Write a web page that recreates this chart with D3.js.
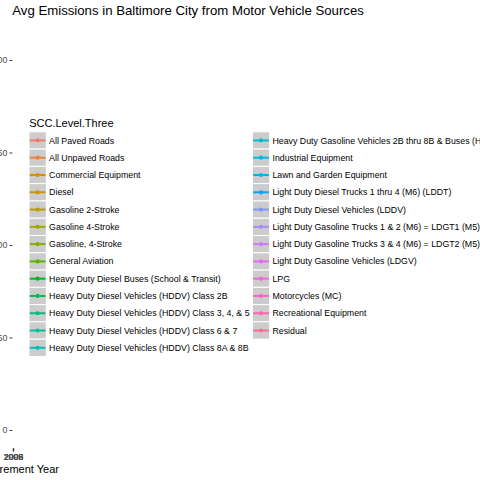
<!DOCTYPE html>
<html><head><meta charset="utf-8">
<script src="https://cdn.jsdelivr.net/npm/d3@7"></script>
<style>body{margin:0;background:#fff}svg{display:block;font-family:"Liberation Sans",Arial,sans-serif}</style>
</head><body><svg id="c" width="480" height="480"></svg>
<script>
const title = "Avg Emissions in Baltimore City from Motor Vehicle Sources";
const xTitle = "Measurement Year";
const yTitle = "Avg Emissions";
const legendTitle = "SCC.Level.Three";
const years = [1999, 2002, 2005, 2008];
const yTicks = [0, 50, 100, 150, 200];
const categories = [
 "All Paved Roads","All Unpaved Roads","Commercial Equipment","Diesel","Gasoline 2-Stroke",
 "Gasoline 4-Stroke","Gasoline, 4-Stroke","General Aviation","Heavy Duty Diesel Buses (School & Transit)",
 "Heavy Duty Diesel Vehicles (HDDV) Class 2B","Heavy Duty Diesel Vehicles (HDDV) Class 3, 4, & 5",
 "Heavy Duty Diesel Vehicles (HDDV) Class 6 & 7","Heavy Duty Diesel Vehicles (HDDV) Class 8A & 8B",
 "Heavy Duty Gasoline Vehicles 2B thru 8B & Buses (HDGV)","Industrial Equipment","Lawn and Garden Equipment",
 "Light Duty Diesel Trucks 1 thru 4 (M6) (LDDT)","Light Duty Diesel Vehicles (LDDV)",
 "Light Duty Gasoline Trucks 1 & 2 (M6) = LDGT1 (M5)","Light Duty Gasoline Trucks 3 & 4 (M6) = LDGT2 (M5)",
 "Light Duty Gasoline Vehicles (LDGV)","LPG","Motorcycles (MC)","Recreational Equipment","Residual"
];

// R-style hcl (polar LUV) -> hex
function rhcl(h, c, l) {
  const Xn = 95.047, Yn = 100, Zn = 108.883;
  const den = Xn + 15*Yn + 3*Zn, un = 4*Xn/den, vn = 9*Yn/den;
  const hr = h*Math.PI/180, U = c*Math.cos(hr), V = c*Math.sin(hr);
  const Y = l > 8 ? Yn*Math.pow((l+16)/116, 3) : Yn*l/903.3;
  const u = U/(13*l) + un, v = V/(13*l) + vn;
  const X = 9*Y*u/(4*v), Z = -X/3 - 5*Y + 3*Y/v;
  const x = X/100, y = Y/100, z = Z/100;
  let r = 3.240479*x - 1.53715*y - 0.498535*z;
  let g = -0.969256*x + 1.875992*y + 0.041556*z;
  let b = 0.055648*x - 0.204043*y + 1.057311*z;
  const gam = t => { t = t > 0.00304 ? 1.055*Math.pow(t, 1/2.4) - 0.055 : 12.92*t; return Math.round(255*Math.max(0, Math.min(1, t))); };
  return d3.rgb(gam(r), gam(g), gam(b)).formatHex();
}
const n = categories.length;
const palette = categories.map((_, i) => rhcl(15 + i*360/n, 100, 65));
const color = d3.scaleOrdinal().domain(categories).range(palette);

const svg = d3.select("#c");
// panel (collapsed to almost nothing by the large legend)
const panel = {left: 12.3, right: 13.2, top: 41.5, bottom: 448.5};
const x = d3.scaleLinear().domain(d3.extent(years)).range([panel.left + 0.5, panel.right]);
const y = d3.scaleLinear().domain([0, 200]).range([430, 60]);

const yAxis = svg.append("g").attr("transform", `translate(${panel.left},0)`)
  .call(d3.axisLeft(y).tickValues(yTicks).tickSize(2.75).tickPadding(2.2).tickFormat(d3.format("d")));
yAxis.select(".domain").remove();
yAxis.selectAll("line").attr("stroke", "#333333").attr("stroke-width", 1);
yAxis.selectAll("text").attr("fill", "#4d4d4d").style("font-size", "8.8px").style("font-family", "inherit");

const xAxis = svg.append("g").attr("transform", `translate(0,${panel.bottom})`)
  .call(d3.axisBottom(x).tickValues(years).tickSize(2.75).tickPadding(2.4).tickFormat(d3.format("d")));
xAxis.select(".domain").remove();
xAxis.selectAll("line").attr("stroke", "#333333").attr("stroke-width", 1);
xAxis.selectAll("text").attr("fill", "#4d4d4d").style("font-size", "8.8px").style("font-family", "inherit");

svg.append("text").attr("x", (panel.left+panel.right)/2).attr("y", 473)
  .attr("text-anchor", "middle").style("font-size", "11px").attr("fill", "#000").text(xTitle);

svg.append("text").attr("x", 12.3).attr("y", 14.5).style("font-size", "13.2px").attr("fill", "#000").text(title);

// legend
const lg = svg.append("g");
lg.append("text").attr("x", 29.2).attr("y", 127).style("font-size", "11px").attr("fill", "#000").text(legendTitle);
const keySize = 17.28, rowsPerCol = 13, top0 = 131.8, colX = [29.0, 252.4];
const items = lg.selectAll("g.item").data(categories).join("g").attr("class", "item")
  .attr("transform", (d, i) => `translate(${colX[Math.floor(i/rowsPerCol)]},${top0 + (i % rowsPerCol)*keySize})`);
items.append("rect").attr("width", keySize).attr("height", keySize).attr("fill", "#cccccc").attr("stroke", "#ffffff").attr("stroke-width", 1);
items.append("line").attr("x1", 0.8).attr("x2", keySize-0.8).attr("y1", keySize/2).attr("y2", keySize/2)
  .attr("stroke", d => color(d)).attr("stroke-width", 2);
items.append("circle").attr("cx", keySize/2).attr("cy", keySize/2).attr("r", 2.1).attr("fill", d => color(d));
items.append("text").attr("x", keySize + 2.8).attr("y", keySize/2).attr("dy", "0.35em")
  .style("font-size", "8.8px").attr("fill", "#000").text(d => d);
</script></body></html>
